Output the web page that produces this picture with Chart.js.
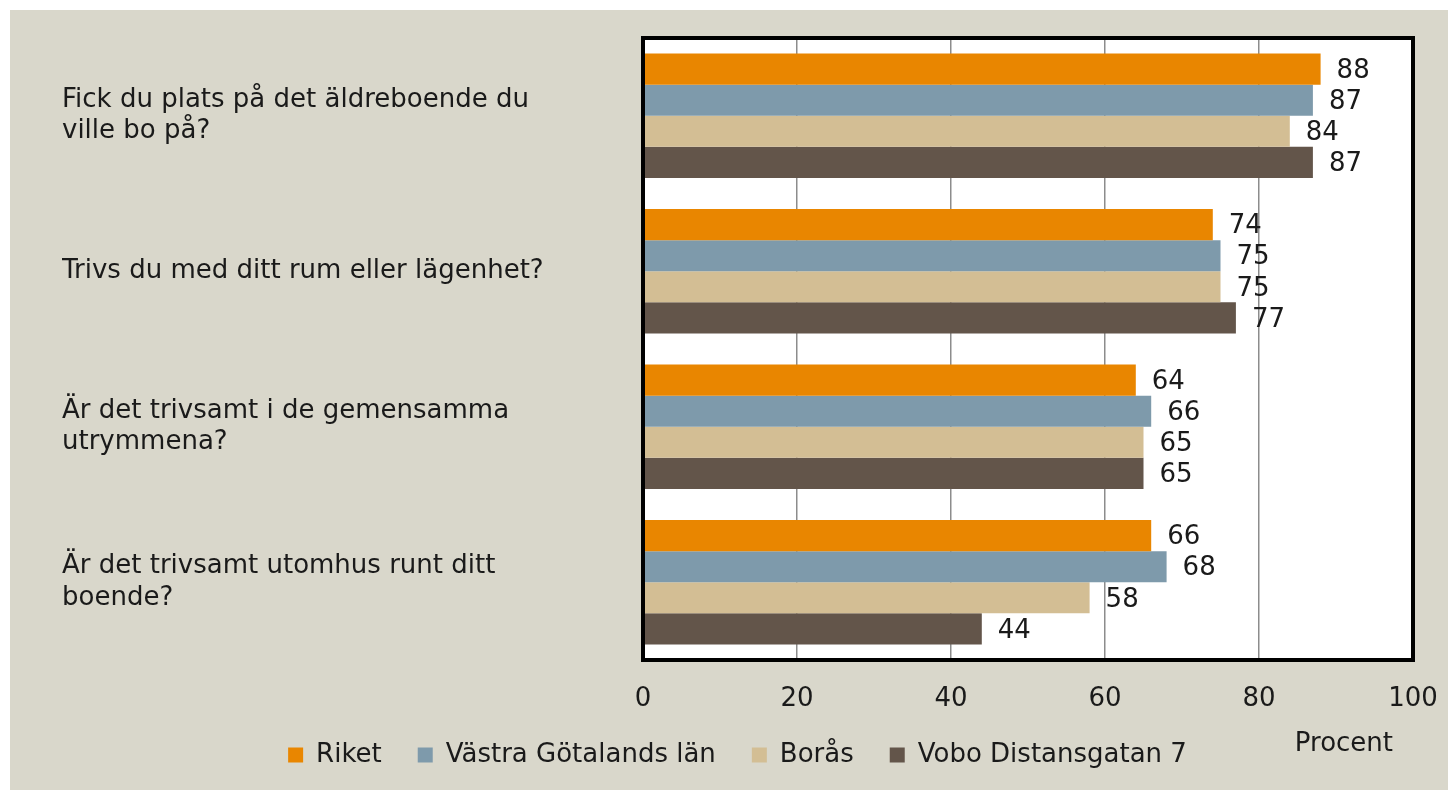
<!DOCTYPE html>
<html lang="sv">
<head>
    <meta charset="UTF-8">
    <title>Trivsel på äldreboende</title>
    <script src="https://cdn.jsdelivr.net/npm/chart.js"></script>
    <style>
        html, body { margin: 0; padding: 0; background: #fff; }
        .box { position: absolute; left: 10px; top: 10px; width: 1438px; height: 780px; background: #D9D7CB; }
    </style>
</head>
<body>
    <div class="box">
        <canvas id="chart" width="1438" height="780"></canvas>
    </div>
    <script>
        const questions = [
            ['Fick du plats på det äldreboende du', 'ville bo på?'],
            ['Trivs du med ditt rum eller lägenhet?'],
            ['Är det trivsamt i de gemensamma', 'utrymmena?'],
            ['Är det trivsamt utomhus runt ditt', 'boende?']
        ];
        const riket = [88, 74, 64, 66];
        const vastraGotaland = [87, 75, 66, 68];
        const boras = [84, 75, 65, 58];
        const vobo = [87, 77, 65, 44];
        const xTicks = [0, 20, 40, 60, 80, 100];

        const FONT = '"DejaVu Sans"';
        const SIZE = 26;
        const TEXT = '#1a1a1a';

        // white plot background + thick black frame
        const frame = {
            id: 'frame',
            beforeDraw(chart) {
                const a = chart.chartArea, ctx = chart.ctx;
                ctx.save();
                ctx.fillStyle = '#fff';
                ctx.fillRect(a.left, a.top, a.right - a.left, a.bottom - a.top);
                ctx.restore();
            },
            afterDraw(chart) {
                const a = chart.chartArea, ctx = chart.ctx;
                ctx.save();
                ctx.strokeStyle = '#000';
                ctx.lineWidth = 4;
                ctx.strokeRect(a.left, a.top, a.right - a.left, a.bottom - a.top);
                // axis unit text
                ctx.fillStyle = TEXT;
                ctx.font = SIZE + 'px ' + FONT;
                ctx.textAlign = 'right';
                ctx.textBaseline = 'middle';
                ctx.fillText('Procent', a.right - 20, a.bottom + 84);
                ctx.restore();
            }
        };

        // value labels to the right of each bar
        const valueLabels = {
            id: 'valueLabels',
            afterDatasetsDraw(chart) {
                const ctx = chart.ctx;
                ctx.save();
                ctx.fillStyle = TEXT;
                ctx.font = SIZE + 'px ' + FONT;
                ctx.textAlign = 'left';
                ctx.textBaseline = 'middle';
                chart.data.datasets.forEach((ds, i) => {
                    chart.getDatasetMeta(i).data.forEach((bar, j) => {
                        ctx.fillText(ds.data[j], bar.x + 16, bar.y + 2);
                    });
                });
                ctx.restore();
            }
        };

        new Chart(document.getElementById('chart'), {
            type: 'bar',
            data: {
                labels: questions,
                datasets: [
                    { label: 'Riket', data: riket, backgroundColor: '#E98600' },
                    { label: 'Västra Götalands län', data: vastraGotaland, backgroundColor: '#7E9AAB' },
                    { label: 'Borås', data: boras, backgroundColor: '#D3BE94' },
                    { label: 'Vobo Distansgatan 7', data: vobo, backgroundColor: '#63554A' }
                ]
            },
            options: {
                indexAxis: 'y',
                responsive: false,
                animation: false,
                categoryPercentage: 0.8,
                barPercentage: 1.0,
                layout: { padding: { left: 52, right: 35, top: 28, bottom: 12 } },
                scales: {
                    x: {
                        min: 0, max: 100,
                        afterBuildTicks(scale) { scale.ticks = xTicks.map(v => ({ value: v })); },
                        afterFit(scale) {
                            scale.paddingLeft = 0; scale.paddingRight = 0;
                            scale.height = 46;
                        },
                        grid: { color: '#8c8c8c', lineWidth: 1.5, drawTicks: false },
                        border: { display: false },
                        ticks: { color: TEXT, font: { family: FONT, size: SIZE, lineHeight: 1.2 }, padding: 24 }
                    },
                    y: {
                        grid: { display: false },
                        border: { display: false },
                        afterFit(scale) {
                            scale.width = 581;
                            scale.paddingTop = 0; scale.paddingBottom = 0;
                        },
                        ticks: {
                            crossAlign: 'far',
                            color: TEXT,
                            font: { family: FONT, size: SIZE, lineHeight: 1.23 }
                        }
                    }
                },
                plugins: {
                    legend: {
                        position: 'bottom',
                        maxHeight: 72,
                        labels: {
                            boxWidth: 15, boxHeight: 15, padding: 36,
                            color: TEXT,
                            font: { family: FONT, size: SIZE }
                        }
                    },
                    tooltip: { enabled: false }
                }
            },
            plugins: [frame, valueLabels]
        });
    </script>
</body>
</html>
